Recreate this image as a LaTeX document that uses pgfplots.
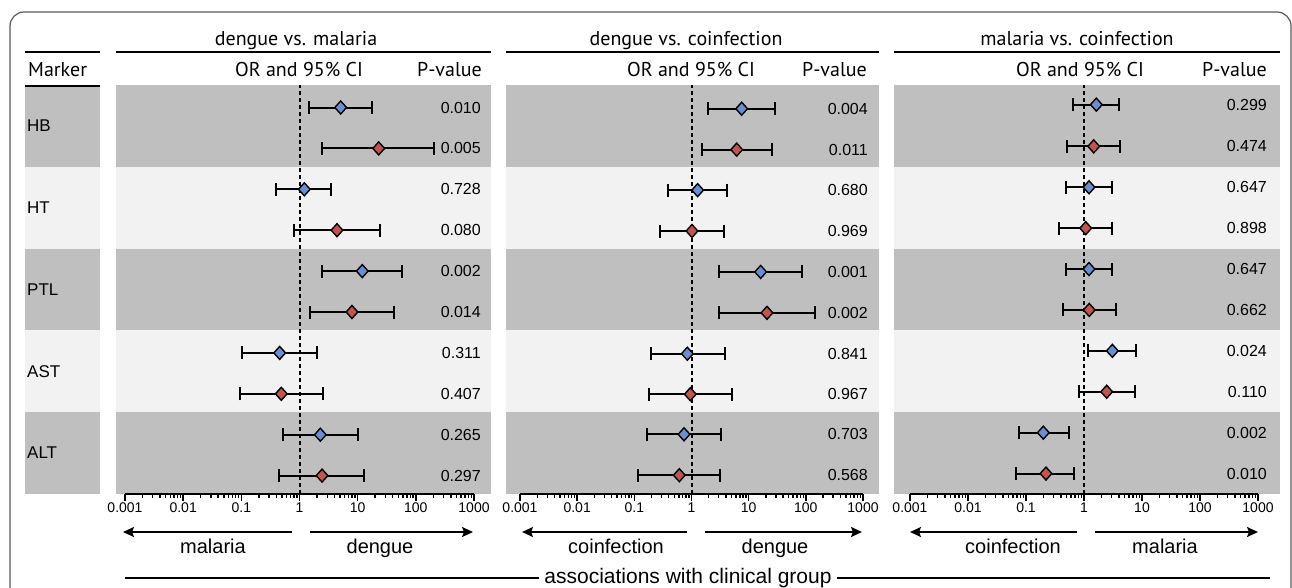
\documentclass[border=0pt]{standalone}
\usepackage{fontspec}
\setmainfont{Liberation Sans}
\newfontfamily\hdr{PT Sans}
\usepackage{pgfplots}
\usepackage{pgfplotstable}
\pgfplotsset{compat=1.18}
\usetikzlibrary{arrows.meta}
\definecolor{bdark}{RGB}{191,191,191}
\definecolor{blight}{RGB}{242,242,242}
\definecolor{cblue}{RGB}{107,142,207}
\definecolor{cred}{RGB}{196,82,80}

% dengue vs. malaria
\pgfplotstableread{
y or lo hi p g
9.45 5.1 1.47 17.8 0.010 b
8.45 23 2.47 205 0.005 r
7.45 1.21 0.394 3.52 0.728 b
6.45 4.41 0.815 24.2 0.080 r
5.45 12.0 2.44 58.5 0.002 b
4.45 7.98 1.51 41.6 0.014 r
3.45 0.456 0.104 2.02 0.311 b
2.45 0.486 0.094 2.53 0.407 r
1.45 2.28 0.52 10.0 0.265 b
0.45 2.44 0.45 13.0 0.297 r
}\tA
% dengue vs. coinfection
\pgfplotstableread{
y or lo hi p g
9.42 7.55 1.92 29.2 0.004 b
8.42 6.17 1.53 25.2 0.011 r
7.43 1.28 0.393 4.23 0.680 b
6.43 1.02 0.285 3.70 0.969 r
5.43 16.2 3.03 85.7 0.001 b
4.43 20.9 3.05 145 0.002 r
3.43 0.845 0.195 3.85 0.841 b
2.44 0.953 0.183 5.17 0.967 r
1.46 0.74 0.166 3.28 0.703 b
0.46 0.612 0.116 3.15 0.568 r
}\tB
% malaria vs. coinfection
\pgfplotstableread{
y or lo hi p g
9.52 1.63 0.64 4.01 0.299 b
8.5 1.47 0.50 4.18 0.474 r
7.5 1.22 0.49 3.04 0.647 b
6.5 1.07 0.371 3.06 0.898 r
5.5 1.22 0.49 3.04 0.647 b
4.5 1.23 0.43 3.61 0.662 r
3.5 3.08 1.17 7.98 0.024 b
2.5 2.46 0.83 7.57 0.110 r
1.5 0.199 0.0748 0.545 0.002 b
0.5 0.221 0.068 0.68 0.010 r
}\tC

\pgfplotsset{
    scale only axis, height=409pt, ymin=0, ymax=10,
    axis x line*=bottom, axis y line=none, x axis line style={draw=none},
    ytick=\empty,
    xtick={0.001,0.01,0.1,1,10,100,1000},
    xticklabels={0.001,0.01,0.1,1,10,100,1000},
    minor xtick={0.002,0.003,0.004,0.005,0.006,0.007,0.008,0.009,0.02,0.03,0.04,0.05,0.06,0.07,0.08,0.09,0.2,0.3,0.4,0.5,0.6,0.7,0.8,0.9,2,3,4,5,6,7,8,9,20,30,40,50,60,70,80,90,200,300,400,500,600,700,800,900},
    xtick align=outside,
    major tick length=7pt, minor tick length=4pt,
    tick style={black, line width=1.4pt},
    xticklabel style={font=\fontsize{14}{16}\selectfont, inner sep=2pt},
    clip=false,
}
\newcommand{\bands}{%
  \fill[bdark] (rel axis cs:0,0.8) rectangle (rel axis cs:1,1);
  \fill[blight] (rel axis cs:0,0.6) rectangle (rel axis cs:1,0.8);
  \fill[bdark] (rel axis cs:0,0.4) rectangle (rel axis cs:1,0.6);
  \fill[blight] (rel axis cs:0,0.2) rectangle (rel axis cs:1,0.4);
  \fill[bdark] (rel axis cs:0,0) rectangle (rel axis cs:1,0.2);
  \draw[line width=2pt, dash pattern=on 4pt off 3pt] (axis cs:1,0) -- (axis cs:1,10);
}
% one panel: #1 table, #2 x position of the P-values
\newcommand{\panel}[2]{%
  \bands
  \addplot[draw=none, mark=none, forget plot,
    error bars/x dir=both, error bars/x explicit,
    error bars/error bar style={draw=black, line width=2pt, solid},
    error bars/error mark=|,
    error bars/error mark options={draw=black, line width=2pt, mark size=6.5pt, solid}]
    table[x=or, y=y, x error plus expr=\thisrow{hi}-\thisrow{or}, x error minus expr=\thisrow{or}-\thisrow{lo}] {#1};
  \addplot[scatter, only marks, mark=diamond*, mark size=6.5pt, scatter src=explicit symbolic,
    scatter/classes={b={mark=diamond*, draw=black, fill=cblue}, r={mark=diamond*, draw=black, fill=cred}},
    mark options={draw=black, line width=1.4pt, xscale=1.2}]
    table[x=or, y=y, meta=g] {#1};
  \addplot[only marks, mark=none, point meta=explicit symbolic, nodes near coords,
    every node near coord/.append style={anchor=east, inner sep=0pt, font=\fontsize{16}{18}\selectfont, black}]
    table[x expr=#2, y=y, meta=p] {#1};
  \draw[line width=2pt] (axis cs:0.001,0) -- (axis cs:1000,0);
}

\begin{document}
\begin{tikzpicture}[x=1pt,y=-1pt]
\useasboundingbox (0,0) rectangle (1292,587);
\draw[black!65, line width=1.2pt, rounded corners=14pt] (10,12) rectangle (1291,660);

% marker column
\fill[bdark] (25,85) rectangle (100,166.8);
\fill[blight] (25,166.8) rectangle (100,248.6);
\fill[bdark] (25,248.6) rectangle (100,330.4);
\fill[blight] (25,330.4) rectangle (100,412.2);
\fill[bdark] (25,412.2) rectangle (100,494);
\foreach \lab/\yy in {HB/131.7,HT/213.5,PTL/295.3,AST/377.1,ALT/458.9}
  \node[anchor=base west, inner sep=0pt, font=\fontsize{17}{19}\selectfont] at (27,\yy) {\lab};
\node[anchor=base west, inner sep=0pt, font=\hdr\fontsize{20}{22}\selectfont] at (28,76) {Marker};

% header lines
\foreach \xa/\xb in {25/100,116/491,506/879,894/1280}{
  \draw[line width=2pt] (\xa,52) -- (\xb,52);
  \draw[line width=2pt] (\xa,86) -- (\xb,86);
}
\foreach \xc/\ttl in {296/dengue vs. malaria,686/dengue vs. coinfection,1077/malaria vs. coinfection}
  \node[anchor=base, inner sep=0pt, font=\hdr\fontsize{20}{22}\selectfont] at (\xc,45) {\ttl};
\foreach \xc in {299,691,1080}
  \node[anchor=base, inner sep=0pt, font=\hdr\fontsize{20}{22}\selectfont] at (\xc,76) {OR and 95\% CI};
\foreach \xc in {482,867,1267}
  \node[anchor=base east, inner sep=0pt, font=\hdr\fontsize{20}{22}\selectfont] at (\xc,76) {P-value};

% panel 1
\begin{axis}[xmode=log, anchor=south west, at={(116pt,-494pt)}, width=375pt, xmin=7.00e-4, xmax=1959]
\panel{\tA}{1318}
\end{axis}

% panel 2
\begin{axis}[xmode=log, anchor=south west, at={(506pt,-494pt)}, width=373pt, xmin=5.69e-4, xmax=1905]
\panel{\tB}{1222}
\end{axis}

% panel 3
\begin{axis}[xmode=log, anchor=south west, at={(894pt,-494pt)}, width=386pt, xmin=5.30e-4, xmax=2393]
\panel{\tC}{1429}
\end{axis}

% direction arrows
\foreach \a/\b/\c/\d in {292/123/310/473, 687/522/705/862, 1077/910/1095/1258}{
  \draw[line width=1.8pt, -{Stealth[length=11pt, width=10pt, inset=2pt]}] (\a,532) -- (\b,532);
  \draw[line width=1.8pt, -{Stealth[length=11pt, width=10pt, inset=2pt]}] (\c,532) -- (\d,532);
}
\foreach \xc/\ttl in {213/malaria,380/dengue,616/coinfection,775/dengue,1013/coinfection,1165/malaria}
  \node[anchor=base, inner sep=0pt, font=\fontsize{20}{22}\selectfont] at (\xc,553) {\ttl};

\draw[line width=1.5pt] (125,578) -- (1270,578);
\node[anchor=base, fill=white, inner xsep=5pt, inner ysep=1pt, font=\fontsize{21}{23}\selectfont] at (688,583) {associations with clinical group};
\end{tikzpicture}
\end{document}
